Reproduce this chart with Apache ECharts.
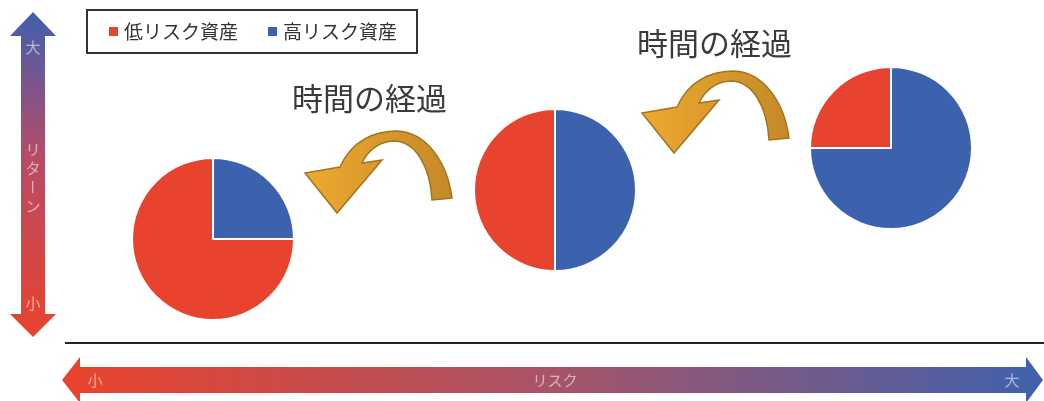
<!DOCTYPE html>
<html><head><meta charset="utf-8">
<script src="https://cdn.jsdelivr.net/npm/echarts@6/dist/echarts.min.js"></script>
<style>html,body{margin:0;padding:0;background:#fff}#c{width:1044px;height:401px}</style>
</head><body><div id="c"></div>
<script>
const categories = ['低リスク資産', '高リスク資産'];
const lowRisk = [75, 50, 25];
const highRisk = [25, 50, 75];
const timeLabel = '時間の経過';
const returnLabels = ['大', 'リ', 'タ', 'ー', 'ン', '小'];
const riskLabels = ['小', 'リスク', '大'];

const FONT = '"Noto Sans CJK JP", "Noto Sans", sans-serif';
const RED = '#e8432e', BLUE = '#3d62ad';
const centers = [[213, 239], [555, 190], [891, 148]];

const series = lowRisk.map((v, i) => ({
  type: 'pie',
  center: centers[i],
  radius: 81,
  startAngle: 90,
  clockwise: true,
  silent: true,
  label: { show: false },
  labelLine: { show: false },
  color: [BLUE, RED],
  itemStyle: { borderColor: '#fff', borderWidth: 2 },
  data: [
    { name: categories[1], value: highRisk[i] },
    { name: categories[0], value: v }
  ]
}));

const arrowPath = 'M 152 78 C 147 40 125 12 97 11 C 75 11 52 20 40 47 L 5 53 L 37 93 L 82 40 L 62 43 C 68 30 80 21 95 21 C 115 22 130 45 132 80 Z';
echarts.graphic.registerShape('timeArrow', echarts.graphic.extendPath(arrowPath, {}));
const arrowFill = { type: 'linear', x: 0, y: 0, x2: 1, y2: 0, colorStops: [{ offset: 0, color: '#eea92f' }, { offset: 1, color: '#c48a28' }] };
function curved(x, y) {
  return { type: 'timeArrow', x: x, y: y, silent: true, shape: {},
    style: { fill: arrowFill, stroke: '#a07522', lineWidth: 1.5 } };
}
const lblStyle = { fill: 'rgba(255,255,255,0.55)', fontSize: 15, fontFamily: FONT, align: 'center', verticalAlign: 'middle' };

const graphic = [
  { type: 'polygon', silent: true, shape: { points: [[33, 12], [56, 36], [45, 36], [45, 314], [56, 314], [33, 337], [10, 314], [21, 314], [21, 36], [10, 36]] },
    style: { fill: { type: 'linear', x: 0, y: 0, x2: 0, y2: 1, colorStops: [{ offset: 0, color: '#3f5faf' }, { offset: 0.45, color: '#b84b66' }, { offset: 1, color: '#e9432d' }] } } },
  { type: 'text', x: 33, y: 47, silent: true, style: Object.assign({ text: returnLabels[0] }, lblStyle) },
  { type: 'text', x: 33, y: 149, silent: true, style: Object.assign({ text: returnLabels[1] }, lblStyle) },
  { type: 'text', x: 33, y: 168, silent: true, style: Object.assign({ text: returnLabels[2] }, lblStyle) },
  { type: 'text', x: 33, y: 187, rotation: -Math.PI / 2, silent: true, style: Object.assign({ text: returnLabels[3] }, lblStyle) },
  { type: 'text', x: 33, y: 206, silent: true, style: Object.assign({ text: returnLabels[4] }, lblStyle) },
  { type: 'text', x: 33, y: 303, silent: true, style: Object.assign({ text: returnLabels[5] }, lblStyle) },
  { type: 'line', silent: true, shape: { x1: 65, y1: 343, x2: 1044, y2: 343 }, style: { stroke: '#222', lineWidth: 2 } },
  { type: 'polygon', silent: true, shape: { points: [[62, 380], [80, 357], [80, 367], [1026, 367], [1026, 357], [1043, 380], [1026, 403], [1026, 393], [80, 393], [80, 403]] },
    style: { fill: { type: 'linear', x: 0, y: 0, x2: 1, y2: 0, colorStops: [{ offset: 0, color: '#ea432c' }, { offset: 0.5, color: '#a85468' }, { offset: 1, color: '#3f61ad' }] } } },
  { type: 'text', x: 95, y: 380, silent: true, style: Object.assign({ text: riskLabels[0] }, lblStyle) },
  { type: 'text', x: 555, y: 380, silent: true, style: Object.assign({ text: riskLabels[1] }, lblStyle) },
  { type: 'text', x: 1012, y: 380, silent: true, style: Object.assign({ text: riskLabels[2] }, lblStyle) },
  curved(300, 120),
  curved(637, 60),
  { type: 'text', x: 292, y: 98, silent: true, style: { text: timeLabel, fill: '#3a3a3a', fontSize: 31, fontFamily: FONT, verticalAlign: 'middle' } },
  { type: 'text', x: 637, y: 43, silent: true, style: { text: timeLabel, fill: '#3a3a3a', fontSize: 31, fontFamily: FONT, verticalAlign: 'middle' } }
];

const chart = echarts.init(document.getElementById('c'));
chart.setOption({
  animation: false,
  backgroundColor: '#fff',
  textStyle: { fontFamily: FONT },
  legend: {
    data: categories,
    left: 87, top: 10,
    padding: [12, 20, 12, 20],
    itemGap: 28,
    itemWidth: 11, itemHeight: 11,
    icon: 'rect',
    selectedMode: false,
    borderColor: '#333', borderWidth: 2,
    backgroundColor: '#fff',
    textStyle: { fontSize: 19, color: '#333', fontFamily: FONT }
  },
  series: series,
  graphic: graphic
});
</script></body></html>
